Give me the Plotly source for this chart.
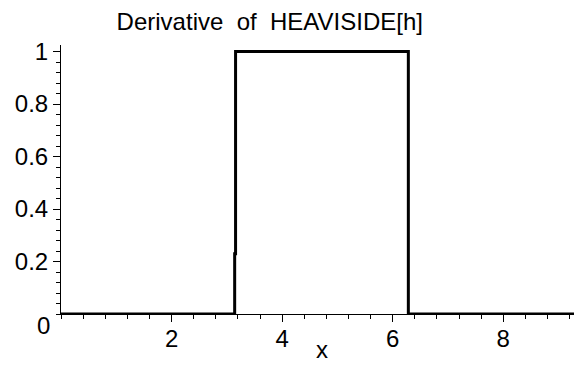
import plotly.graph_objects as go

# Sampled curve: derivative of the Heaviside-based pulse on [0, 3*pi]
x_vals = [0.0, 3.1416, 3.1416, 3.158, 3.158, 6.2832, 6.2832, 9.4248]
y_vals = [0.0, 0.0, 0.23, 0.23, 1.0, 1.0, 0.0, 0.0]

x_ticks = [2, 4, 6, 8]
y_ticks = [0.2, 0.4, 0.6, 0.8, 1]
y_tick_text = ["0.2", "0.4", "0.6", "0.8", "1"]

title_text = "Derivative\u00a0 of\u00a0 HEAVISIDE[h]"
font_family = "Liberation Sans, Arial, Helvetica, sans-serif"
fsize = 24

fig = go.Figure()
fig.add_trace(go.Scatter(
    x=x_vals, y=y_vals, mode="lines",
    line=dict(color="black", width=3),
    cliponaxis=False, hoverinfo="skip", showlegend=False,
))

fig.update_layout(
    width=574, height=365,
    margin=dict(l=61, r=0, t=45, b=51),
    paper_bgcolor="white", plot_bgcolor="white",
    font=dict(family=font_family, size=fsize, color="black"),
    title=dict(text=title_text, x=0.47, xanchor="center", y=0.94, yanchor="middle",
               font=dict(family=font_family, size=fsize, color="black")),
    xaxis=dict(
        range=[0, 9.28], showgrid=False, zeroline=False,
        showline=True, linecolor="black", linewidth=1,
        ticks="outside", ticklen=7, tickwidth=1, tickcolor="black",
        tickvals=x_ticks, ticktext=[str(v) for v in x_ticks],
        ticklabelstandoff=-4,
        minor=dict(dtick=0.4, tick0=0, ticks="outside", ticklen=4, tickcolor="black"),
        fixedrange=True,
    ),
    yaxis=dict(
        range=[0, 1.025], showgrid=False, zeroline=False,
        showline=True, linecolor="black", linewidth=1,
        ticks="outside", ticklen=7, tickwidth=1, tickcolor="black",
        tickvals=y_ticks, ticktext=y_tick_text,
        minor=dict(dtick=0.04, tick0=0, ticks="outside", ticklen=4, tickcolor="black"),
        fixedrange=True,
    ),
)

# Origin label and axis title, positioned in pixel coordinates
plot_w = 574 - 61
plot_h = 365 - 45 - 51
def px_to_paper(px, py):
    return (px - 61) / plot_w, (365 - 51 - py) / plot_h

ox, oy = px_to_paper(43, 325)
fig.add_annotation(text="0", x=ox, y=oy, xref="paper", yref="paper",
                   xanchor="center", yanchor="middle", showarrow=False,
                   font=dict(family=font_family, size=fsize, color="black"))
lx, ly = px_to_paper(322, 364)
fig.add_annotation(text="x", x=lx, y=ly, xref="paper", yref="paper",
                   xanchor="center", yanchor="bottom", showarrow=False,
                   borderpad=0,
                   font=dict(family=font_family, size=fsize, color="black"))

fig.write_html("out.html", config={"displayModeBar": False})
